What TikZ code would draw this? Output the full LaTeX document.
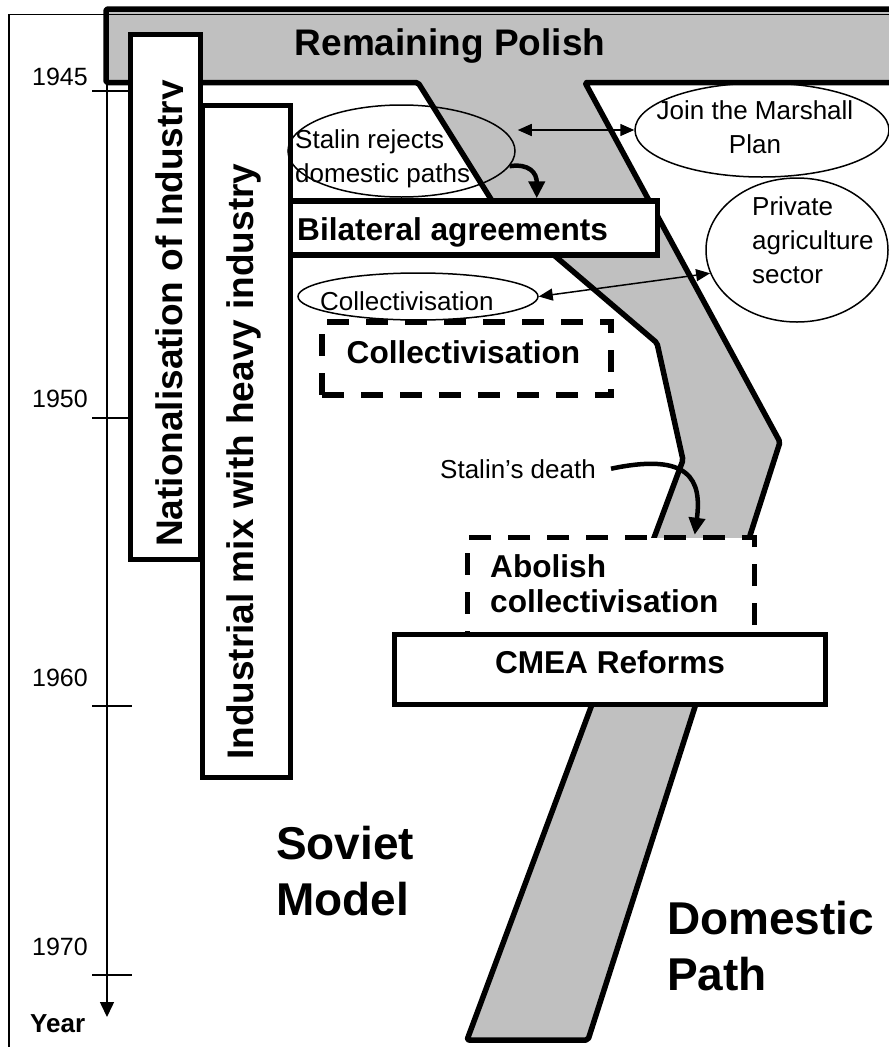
\documentclass[tikz,border=0pt]{standalone}
\usepackage{fontspec}
\setmainfont{Liberation Sans}
\usetikzlibrary{shapes.geometric, arrows.meta, calc}
\definecolor{pathgray}{RGB}{192,192,192}
\begin{document}
\begin{tikzpicture}[x=1pt, y=-1pt,
  heavy/.style={line width=5.5pt},
  thinline/.style={line width=1.5pt},
  boxnode/.style={draw, heavy, fill=white, rectangle, inner sep=0pt},
  dashbox/.style={draw, heavy, dash pattern=on 22pt off 17pt, rectangle, inner sep=0pt},
  ellnode/.style={draw, thinline, ellipse, inner sep=0pt},
  lbl/.style={inner sep=0pt, font=\fontsize{26}{34}\selectfont},
  boldmid/.style={inner sep=0pt, font=\fontsize{31.6}{35}\selectfont\bfseries},
  boldbig/.style={inner sep=0pt, font=\fontsize{37}{42}\selectfont\bfseries},
  boldhuge/.style={inner sep=0pt, font=\fontsize{46}{56}\selectfont\bfseries},
  yearlbl/.style={inner sep=0pt, font=\fontsize{25}{30}\selectfont, anchor=base east},
  thinarrow/.style={thinline, {Triangle[length=14pt,width=12pt]}-{Triangle[length=14pt,width=12pt]}},
  thickarrow/.style={line width=4.5pt, -{Triangle[length=17pt,width=16pt]}},
]
\clip (0,0) rectangle (889,1047);
\fill[white] (0,0) rectangle (889,1047);

% the shared trunk and the domestic branch
\draw[heavy, fill=pathgray, line join=round, rounded corners=2pt]
  (106,9) -- (900,9) -- (900,82.5) -- (585,82.5) -- (780,442) -- (588,1040)
  -- (467,1040) -- (683,460) -- (657,343) -- (494,204) -- (418,82.5)
  -- (106,82.5) -- cycle;

% outer frame
\draw[thinline] (9,1060) -- (9,14.5) -- (900,14.5);

% time axis
\coordinate (axtop) at (107,84);
\coordinate (axend) at (107,1017);
\draw[thinline, -{Triangle[length=15pt,width=14pt]}] (axtop) -- (axend);
\foreach \yy in {91,418,706,975} \draw[thinline] (92,\yy) -- (132,\yy);
\node[yearlbl] (y1945) at (88,85) {1945};
\node[yearlbl] (y1950) at (88,407) {1950};
\node[yearlbl] (y1960) at (88,686) {1960};
\node[yearlbl] (y1970) at (88,955) {1970};
\node[inner sep=0pt, font=\fontsize{26}{30}\selectfont\bfseries, anchor=base west] (tYear) at (30,1032) {Year};

% vertical policy bars
\node[boxnode, minimum width=70pt, minimum height=525pt] (nat) at (165.5,297) {};
\node[boxnode, minimum width=88pt, minimum height=672pt] (ind) at (246.5,441.5) {};
\begin{scope}
  \clip (133,37) rectangle (182,557);
  \node[boldbig, rotate=90, anchor=base west] (tNat) at (182,547) {Nationalisation of Industry};
\end{scope}
\node[boldbig, rotate=90, anchor=base west] (tInd) at (253,760) {Industrial mix with heavy industry};

% events
\node[ellnode, minimum width=227pt, minimum height=92pt] (stalin) at (401.5,151) {};
\node[lbl, align=left, anchor=base west] (tStalin) at (295,182) {Stalin rejects\\domestic paths};
\node[ellnode, minimum width=254pt, minimum height=94pt] (marshall) at (762,130) {};
\node[lbl, align=center, anchor=base] (tMarshall) at (755,153) {Join the Marshall\\Plan};
\node[ellnode, minimum width=182pt, minimum height=144pt] (private) at (797,250) {};
\node[lbl, align=left, anchor=base west] (tPrivate) at (752,283) {Private\\agriculture\\sector};
\node[ellnode, minimum width=240pt, minimum height=47pt] (collell) at (418,296.5) {};
\node[lbl, anchor=base west] (tCollEll) at (320,310) {Collectivisation};
\node[lbl, anchor=base west] (tDeath) at (440,478) {Stalin’s death};

% policy boxes
\node[boxnode, minimum width=367pt, minimum height=54pt] (bilat) at (474,228) {};
\node[boldmid, anchor=base west] (tBilat) at (297,240) {Bilateral agreements};
\node[dashbox, minimum width=289pt, minimum height=73pt] (collbox) at (466.5,358.5) {};
\node[boldmid, anchor=base] (tColl) at (463.5,363) {Collectivisation};
\node[dashbox, fill=white, minimum width=287pt, minimum height=112.5pt] (abolbox) at (611,593.75) {};
\node[boldmid, align=left, anchor=base west] (tAbol) at (490,612) {Abolish\\collectivisation};
\node[boxnode, minimum width=431pt, minimum height=70pt] (cmea) at (610,669.5) {};
\node[boldmid, anchor=base] (tCmea) at (610,673) {CMEA Reforms};

% connectors
\draw[thinarrow] ($(stalin.east)+(2,-21)$) -- (marshall.west);
\draw[thickarrow] (stalin.-8) .. controls +(20,-3) and +(0,-25) .. ($(bilat.north west)+(249,0)$);
\draw[thinarrow] (collell.east) -- (private.195);
\draw[thickarrow] ($(tDeath.east)+(15,0)$) .. controls (690,452) and (702,480) .. ($(abolbox.north west)+(230,0)$);

% headings
\node[boldbig, anchor=base] (tPolish) at (450,55) {Remaining Polish};
\node[boldhuge, align=left, anchor=base west] (tSoviet) at (276,915) {Soviet\\Model};
\node[boldhuge, align=left, anchor=base west] (tDom) at (667,990) {Domestic\\Path};
\end{tikzpicture}
\end{document}
